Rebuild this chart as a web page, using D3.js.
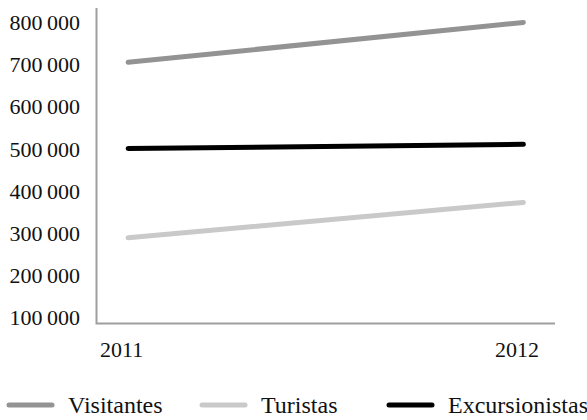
<!DOCTYPE html>
<html>
<head>
<meta charset="utf-8">
<script src="https://cdn.jsdelivr.net/npm/d3@7"></script>
<style>
  html, body { margin: 0; padding: 0; background: #fff; }
  svg, svg text { font-family: "Liberation Serif", "Times New Roman", serif; }
  svg { display: block; }
</style>
</head>
<body>
<svg id="chart" width="587" height="420"></svg>
<script>
// Years on the horizontal axis
const years = ["2011", "2012"];

// Series values per year
const visitantes = [705000, 800000];
const turistas = [288000, 372000];
const excursionistas = [500000, 510000];

// Vertical tick values
const yTicks = [100000, 200000, 300000, 400000, 500000, 600000, 700000, 800000];

const seriesNames = ["Visitantes", "Turistas", "Excursionistas"];
const seriesColors = ["#939393", "#c9c9c9", "#000000"];

const series = [visitantes, turistas, excursionistas].map((vals, i) => ({
  name: seriesNames[i],
  color: seriesColors[i],
  values: vals.map((v, j) => ({ year: years[j], value: v }))
}));

const svg = d3.select("#chart");

// Plot frame
const frame = { left: 96.5, right: 555, top: 8, bottom: 323.5 };

const x = d3.scalePoint()
  .domain(years)
  .range([frame.left, frame.right])
  .padding(0.08);

const y = d3.scaleLinear()
  .domain([100000, 800000])
  .range([316.8, 22.4]);

const locale = d3.formatLocale({ decimal: ",", thousands: "\u2009", grouping: [3], currency: ["", " €"] });
const fmt = locale.format(",d");

// Axis lines (left and bottom)
svg.append("path")
  .attr("d", `M${frame.left},${frame.top}V${frame.bottom}H${frame.right}`)
  .attr("fill", "none")
  .attr("stroke", "#9e9e9e")
  .attr("stroke-width", 2);

// Y tick labels
const yAxis = svg.append("g")
  .attr("transform", `translate(80,0)`)
  .call(d3.axisLeft(y).tickValues(yTicks).tickFormat(fmt).tickSize(0).tickPadding(0))
  .attr("font-family", "Liberation Serif")
  .attr("font-size", 22);
yAxis.select(".domain").remove();
yAxis.selectAll("text")
  .attr("fill", "#111")
  .attr("dy", "0.34em");

// X tick labels
const xAxis = svg.append("g")
  .attr("transform", `translate(0,${frame.bottom})`)
  .call(d3.axisBottom(x).tickSize(0).tickPadding(0))
  .attr("font-family", "Liberation Serif")
  .attr("font-size", 22);
xAxis.select(".domain").remove();
xAxis.selectAll("text")
  .attr("fill", "#111")
  .attr("y", 33)
  .attr("dy", 0)
  .attr("dx", -7);

// Series lines
const line = d3.line()
  .x(d => x(d.year))
  .y(d => y(d.value));

svg.append("g")
  .selectAll("path")
  .data(series)
  .join("path")
  .attr("d", d => line(d.values))
  .attr("fill", "none")
  .attr("stroke", d => d.color)
  .attr("stroke-width", 5)
  .attr("stroke-linecap", "round");

// Legend
const legendX = [9, 202, 389];
const legend = svg.append("g").attr("transform", "translate(0,405)");
const item = legend.selectAll("g")
  .data(series)
  .join("g")
  .attr("transform", (d, i) => `translate(${legendX[i]},0)`);
item.append("line")
  .attr("x1", 0).attr("x2", 43)
  .attr("y1", 0).attr("y2", 0)
  .attr("stroke", d => d.color)
  .attr("stroke-width", 5)
  .attr("stroke-linecap", "round");
item.append("text")
  .attr("x", 59)
  .attr("y", 8)
  .attr("font-family", "Liberation Serif")
  .attr("font-size", 24)
  .attr("fill", "#111")
  .text(d => d.name);
</script>
</body>
</html>
